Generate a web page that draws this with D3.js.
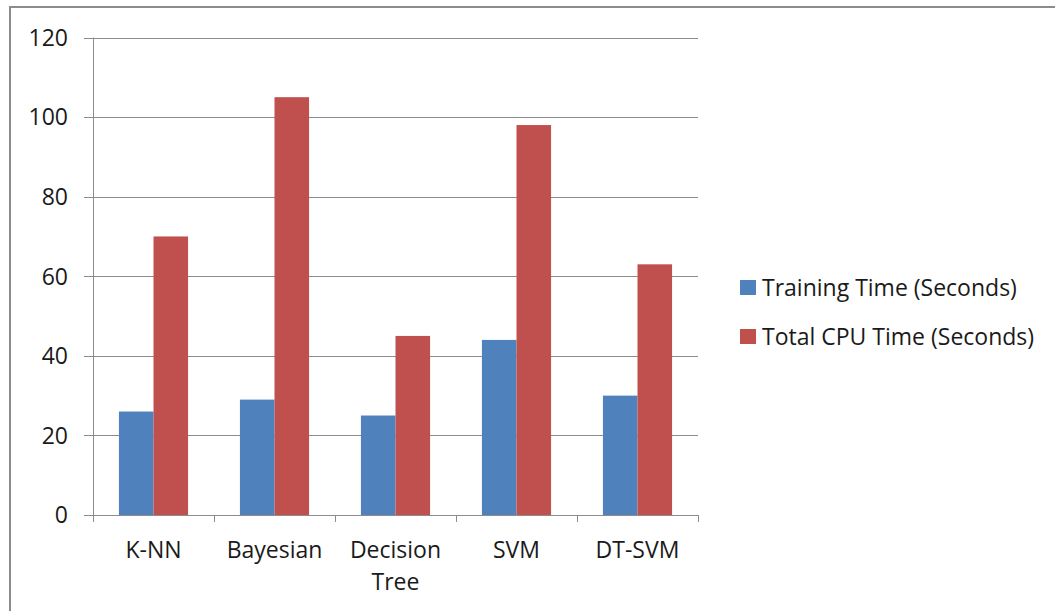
<!DOCTYPE html>
<html>
<head>
<meta charset="utf-8">
<script src="https://cdn.jsdelivr.net/npm/d3@7"></script>
<style>
  html, body { margin: 0; padding: 0; background: #fff; }
  svg { display: block; }
  text { font-family: "Open Sans", "Noto Sans", sans-serif; fill: #1a1a1a; }
</style>
</head>
<body>
<svg id="chart" width="1055" height="611"></svg>
<script>
// Algorithms compared
const categories = ["K-NN", "Bayesian", "Decision Tree", "SVM", "DT-SVM"];
// Series names and values (seconds)
const seriesNames = ["Training Time (Seconds)", "Total CPU Time (Seconds)"];
const trainingTime = [26, 29, 25, 44, 30];
const totalCpuTime = [70, 105, 45, 98, 63];
const yTicks = [0, 20, 40, 60, 80, 100, 120];
const colors = ["#4F81BD", "#C0504D"];

const svg = d3.select("#chart");
const fontSize = 23;

// outer chart frame
svg.append("rect")
  .attr("x", 10).attr("y", 7)
  .attr("width", 1060).attr("height", 620)
  .attr("fill", "#fff")
  .attr("stroke", "#8c8c8c").attr("stroke-width", 2);

const plot = { left: 93, right: 698, top: 37.5, bottom: 515 };

const x = d3.scaleBand()
  .domain(categories)
  .range([plot.left, plot.right])
  .paddingInner(0).paddingOuter(0);

const y = d3.scaleLinear()
  .domain([0, 120])
  .range([plot.bottom, plot.top]);

// inner band for the two bars (gap width 75% of a bar)
const barGap = 0.75;
const sub = d3.scaleBand()
  .domain([0, 1])
  .range([0, x.bandwidth()])
  .paddingOuter(barGap)
  .paddingInner(0);

// horizontal gridlines
svg.append("g")
  .selectAll("line")
  .data(yTicks)
  .join("line")
  .attr("x1", plot.left - 9)
  .attr("x2", plot.right)
  .attr("y1", d => Math.round(y(d)) + 0.5)
  .attr("y2", d => Math.round(y(d)) + 0.5)
  .attr("stroke", "#8c8c8c")
  .attr("stroke-width", 1);

// y tick labels
svg.append("g")
  .selectAll("text")
  .data(yTicks)
  .join("text")
  .attr("x", 68)
  .attr("y", d => y(d))
  .attr("dy", "0.36em")
  .attr("text-anchor", "end")
  .attr("font-size", fontSize)
  .text(d => d);

// bars
const series = [trainingTime, totalCpuTime];
series.forEach((vals, si) => {
  svg.append("g")
    .selectAll("rect")
    .data(categories.map((c, i) => ({ c, v: vals[i] })))
    .join("rect")
    .attr("x", d => x(d.c) + sub(si))
    .attr("width", sub.bandwidth())
    .attr("y", d => y(d.v))
    .attr("height", d => y(0) - y(d.v))
    .attr("fill", colors[si]);
});

// y axis line
svg.append("line")
  .attr("x1", plot.left + 0.5).attr("x2", plot.left + 0.5)
  .attr("y1", plot.top).attr("y2", plot.bottom + 7)
  .attr("stroke", "#8c8c8c");

// x axis line and category ticks
svg.append("line")
  .attr("x1", plot.left).attr("x2", plot.right)
  .attr("y1", Math.round(y(0)) + 0.5).attr("y2", Math.round(y(0)) + 0.5)
  .attr("stroke", "#8c8c8c");

const bounds = categories.map(c => x(c)).concat([plot.right]);
svg.append("g")
  .selectAll("line")
  .data(bounds)
  .join("line")
  .attr("x1", d => Math.round(d) + 0.5)
  .attr("x2", d => Math.round(d) + 0.5)
  .attr("y1", y(0))
  .attr("y2", y(0) + 7)
  .attr("stroke", "#8c8c8c");

// category labels (wrapped)
const catLines = {
  "K-NN": ["K-NN"],
  "Bayesian": ["Bayesian"],
  "Decision Tree": ["Decision", "Tree"],
  "SVM": ["SVM"],
  "DT-SVM": ["DT-SVM"]
};
const catG = svg.append("g");
categories.forEach(c => {
  const cx = x(c) + x.bandwidth() / 2;
  const t = catG.append("text")
    .attr("x", cx)
    .attr("y", 558)
    .attr("text-anchor", "middle")
    .attr("font-size", fontSize);
  catLines[c].forEach((ln, i) => {
    t.append("tspan")
      .attr("x", cx)
      .attr("dy", i === 0 ? 0 : 32)
      .text(ln);
  });
});

// legend
const legend = svg.append("g");
seriesNames.forEach((name, i) => {
  const ly = 288 + i * 49;
  legend.append("rect")
    .attr("x", 740).attr("y", ly - 8)
    .attr("width", 16).attr("height", 15)
    .attr("fill", colors[i]);
  legend.append("text")
    .attr("x", 762).attr("y", ly)
    .attr("dy", "0.36em")
    .attr("font-size", fontSize)
    .text(name);
});
</script>
</body>
</html>
